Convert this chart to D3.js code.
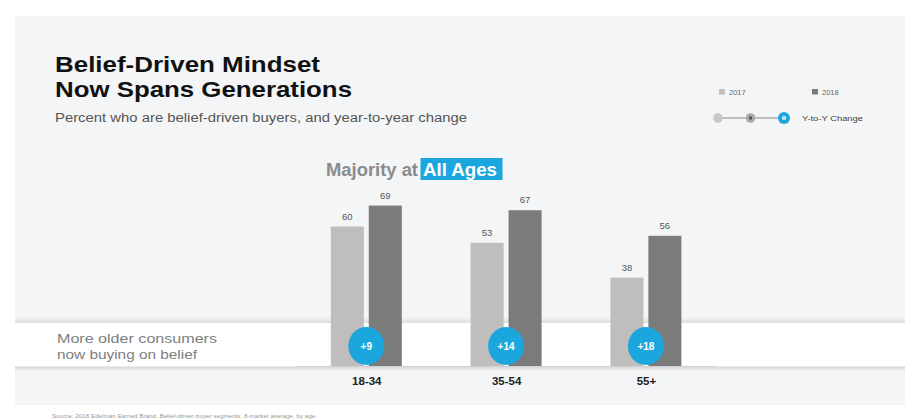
<!DOCTYPE html>
<html>
<head>
<meta charset="utf-8">
<script src="https://cdn.jsdelivr.net/npm/d3@7"></script>
<style>
  html, body { margin: 0; padding: 0; background: #ffffff; }
  svg { display: block; font-family: "Liberation Sans", Arial, Helvetica, sans-serif; }
</style>
</head>
<body>
<svg id="chart" width="905" height="419"></svg>
<script>
// ---- Data ----
const categories = ["18-34", "35-54", "55+"];
const values2017 = [60, 53, 38];
const values2018 = [69, 67, 56];
const changeLabels = ["+9", "+14", "+18"];
const seriesNames = ["2017", "2018"];

const titleLines = ["Belief-Driven Mindset", "Now Spans Generations"];
const subtitle = "Percent who are belief-driven buyers, and year-to-year change";
const calloutLines = ["More older consumers", "now buying on belief"];
const sourceText = "Source: 2018 Edelman Earned Brand. Belief-driven buyer segments, 8-market average, by age.";

// ---- Setup ----
const svg = d3.select("#chart");
const W = 905, H = 419;
const colors = { "2017": "#c0bdbd", "2018": "#7a7c7b" };
const blue = "#1ba7de";

// panel background
svg.append("rect").attr("x", 15).attr("y", 16).attr("width", W - 15).attr("height", 389)
  .attr("fill", "#f4f5f6");

// white band with shadows
const defs = svg.append("defs");
const gTop = defs.append("linearGradient").attr("id", "shTop").attr("x1", 0).attr("y1", 0).attr("x2", 0).attr("y2", 1);
gTop.append("stop").attr("offset", "0%").attr("stop-color", "#f4f5f6");
gTop.append("stop").attr("offset", "100%").attr("stop-color", "#dcdddf");
svg.append("rect").attr("x", 15).attr("y", 317).attr("width", W - 15).attr("height", 6).attr("fill", "url(#shTop)");
svg.append("rect").attr("x", 15).attr("y", 323).attr("width", W - 15).attr("height", 44).attr("fill", "#ffffff");
const gBot = defs.append("linearGradient").attr("id", "shBot").attr("x1", 0).attr("y1", 0).attr("x2", 0).attr("y2", 1);
gBot.append("stop").attr("offset", "0%").attr("stop-color", "#d5d6d8");
gBot.append("stop").attr("offset", "100%").attr("stop-color", "#f4f5f6");
svg.append("rect").attr("x", 15).attr("y", 366.5).attr("width", W - 15).attr("height", 5).attr("fill", "url(#shBot)");

// ---- Scales ----
const x0 = d3.scalePoint().domain(categories).range([366.3, 645.9]);
const x1 = d3.scaleBand().domain(seriesNames).range([-35.5, 35.5]).paddingInner(0.13).paddingOuter(0);
const y = d3.scaleLinear().domain([0, 100]).range([366, 133.5]);

// baseline
svg.append("line").attr("x1", 295).attr("x2", 715).attr("y1", y(0) + 0.5).attr("y2", y(0) + 0.5)
  .attr("stroke", "#cfd0d1").attr("stroke-width", 1);

// bars
const rows = categories.map((c, i) => ({ cat: c, vals: [
  { s: "2017", v: values2017[i] }, { s: "2018", v: values2018[i] }] , change: changeLabels[i] }));

const groups = svg.selectAll("g.grp").data(rows).join("g")
  .attr("class", "grp")
  .attr("transform", d => `translate(${x0(d.cat)},0)`);

groups.selectAll("rect.bar").data(d => d.vals).join("rect")
  .attr("class", "bar")
  .attr("x", d => x1(d.s))
  .attr("width", x1.bandwidth())
  .attr("y", d => y(d.v))
  .attr("height", d => y(0) - y(d.v))
  .attr("fill", d => colors[d.s]);

groups.selectAll("text.val").data(d => d.vals).join("text")
  .attr("class", "val")
  .attr("x", d => x1(d.s) + x1.bandwidth() / 2)
  .attr("y", d => y(d.v) - 7)
  .attr("text-anchor", "middle")
  .attr("font-size", 9.5)
  .attr("fill", "#555")
  .text(d => d.v);

// change bubbles
groups.append("ellipse")
  .attr("cx", 0).attr("cy", 346).attr("rx", 18).attr("ry", 19)
  .attr("fill", blue);
groups.append("text")
  .attr("x", 0).attr("y", 349.5)
  .attr("text-anchor", "middle")
  .attr("font-size", 10).attr("font-weight", "bold")
  .attr("fill", "#ffffff")
  .text(d => d.change);

// category axis labels
const xAxis = d3.axisBottom(x0).tickSize(0).tickPadding(0);
const axG = svg.append("g").attr("transform", `translate(0,${377})`).call(xAxis);
axG.select(".domain").remove();
axG.selectAll("text")
  .attr("font-family", "'Liberation Sans', Arial, sans-serif")
  .attr("font-size", 11.5).attr("font-weight", "bold").attr("fill", "#222")
  .attr("dy", "0.71em");

// ---- Titles ----
svg.append("text").attr("x", 55).attr("y", 72)
  .attr("font-size", 21.5).attr("font-weight", "bold").attr("fill", "#111")
  .attr("textLength", 265).attr("lengthAdjust", "spacingAndGlyphs")
  .text(titleLines[0]);
svg.append("text").attr("x", 55).attr("y", 97)
  .attr("font-size", 21.5).attr("font-weight", "bold").attr("fill", "#111")
  .attr("textLength", 297).attr("lengthAdjust", "spacingAndGlyphs")
  .text(titleLines[1]);
svg.append("text").attr("x", 55).attr("y", 122)
  .attr("font-size", 12).attr("fill", "#555")
  .attr("textLength", 412).attr("lengthAdjust", "spacingAndGlyphs")
  .text(subtitle);

// "Majority at All Ages"
svg.append("text").attr("x", 326).attr("y", 176)
  .attr("font-size", 18).attr("font-weight", "bold").attr("fill", "#8a8b8c")
  .attr("textLength", 92).attr("lengthAdjust", "spacingAndGlyphs")
  .text("Majority at");
svg.append("rect").attr("x", 420.5).attr("y", 158).attr("width", 82).attr("height", 22)
  .attr("fill", blue);
svg.append("text").attr("x", 423).attr("y", 176)
  .attr("font-size", 18).attr("font-weight", "bold").attr("fill", "#ffffff")
  .attr("textLength", 74).attr("lengthAdjust", "spacingAndGlyphs")
  .text("All Ages");

// callout in band
calloutLines.forEach((t, i) => {
  svg.append("text").attr("x", 57).attr("y", 343 + i * 15.5)
    .attr("font-size", 13.5).attr("fill", "#7d7e7f")
    .attr("textLength", i === 0 ? 160 : 140).attr("lengthAdjust", "spacingAndGlyphs")
    .text(t);
});

// ---- Legend ----
const legend = svg.append("g");
const legendItems = [{ s: "2017", x: 719 }, { s: "2018", x: 812 }];
legendItems.forEach(d => {
  legend.append("rect").attr("x", d.x).attr("y", 89).attr("width", 6).attr("height", 5.5).attr("fill", colors[d.s]);
  legend.append("text").attr("x", d.x + 10).attr("y", 94.5)
    .attr("font-size", 7.5).attr("fill", "#666").text(d.s);
});
legend.append("line").attr("x1", 718).attr("x2", 784).attr("y1", 118).attr("y2", 118)
  .attr("stroke", "#8a8a8a").attr("stroke-width", 1.2);
legend.append("circle").attr("cx", 718).attr("cy", 118).attr("r", 4.8).attr("fill", "#c8c8c8");
legend.append("circle").attr("cx", 750.5).attr("cy", 118).attr("r", 4.8).attr("fill", "#a9aaaa");
legend.append("rect").attr("x", 749).attr("y", 116.5).attr("width", 3).attr("height", 3).attr("fill", "#555");
legend.append("circle").attr("cx", 784).attr("cy", 118).attr("r", 6).attr("fill", blue);
legend.append("circle").attr("cx", 784).attr("cy", 118).attr("r", 2.2).attr("fill", "#bfe6f6");
legend.append("text").attr("x", 802).attr("y", 120.5)
  .attr("font-size", 7.5).attr("fill", "#444")
  .attr("textLength", 61).attr("lengthAdjust", "spacingAndGlyphs")
  .text("Y-to-Y Change");

// ---- Source ----
svg.append("text").attr("x", 52).attr("y", 418)
  .attr("font-size", 4.5).attr("fill", "#999")
  .attr("textLength", 265).attr("lengthAdjust", "spacingAndGlyphs")
  .text(sourceText);
</script>
</body>
</html>
